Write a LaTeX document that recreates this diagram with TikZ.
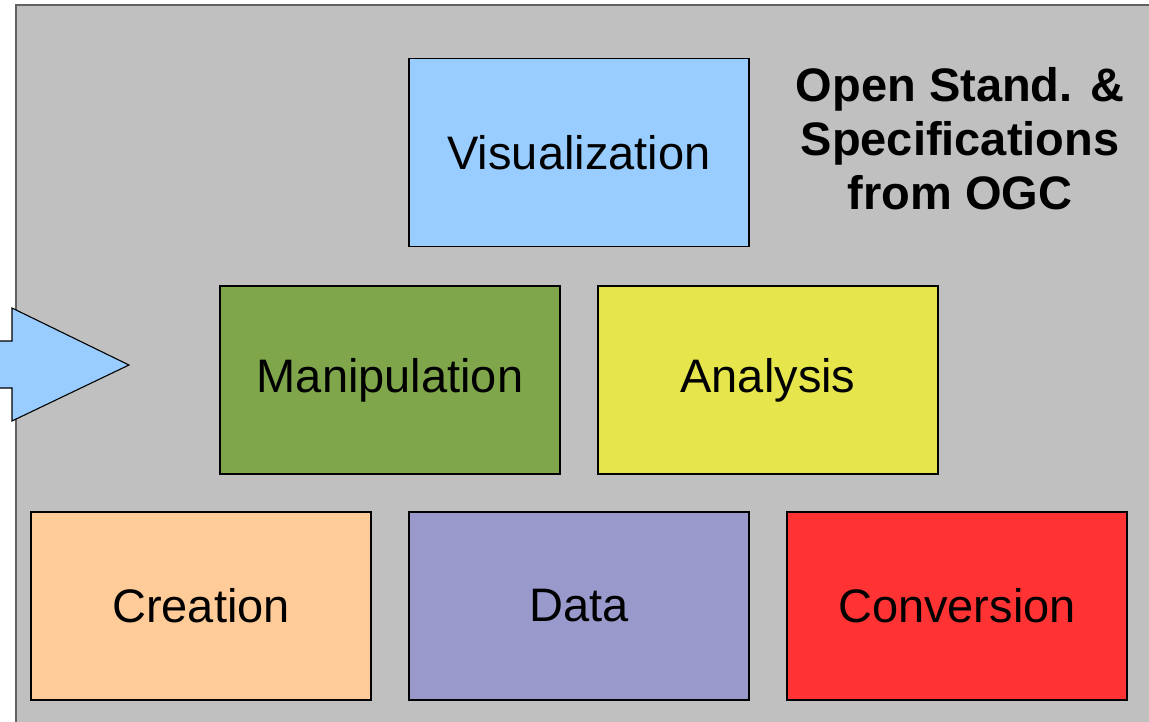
\documentclass[tikz,border=0pt]{standalone}
\usepackage{fontspec}
\setmainfont{Liberation Sans}
\definecolor{visblue}{HTML}{99CCFF}
\definecolor{mangreen}{HTML}{7FA64A}
\definecolor{anayellow}{HTML}{E6E64C}
\definecolor{creorange}{HTML}{FFCC99}
\definecolor{datviolet}{HTML}{9999CC}
\definecolor{conred}{HTML}{FF3333}
\definecolor{panelgray}{HTML}{C0C0C0}
\tikzstyle{block} = [draw=black,line width=1.1pt,minimum width=340pt,minimum height=188pt,inner sep=0pt,font=\fontsize{47}{54}\selectfont]
\tikzstyle{title} = [align=center,font=\fontsize{47}{54}\selectfont\bfseries]
\tikzstyle{panel} = [draw=black!62,line width=1.6pt,fill=panelgray]
\tikzstyle{bigarrow} = [draw=black,line width=1.1pt,fill=visblue,line join=miter]

\begin{document}
\begin{tikzpicture}[x=1pt,y=-1pt]
\useasboundingbox (0,0) rectangle (1149,721);
\path[panel] (16,5) rectangle (1170,740);
\path[bigarrow] (-10,341) -- (12,341) -- (12,308) -- (129,365)
  -- (12,421) -- (12,388) -- (-10,388) -- cycle;
\foreach \pos/\name/\col/\txt in {{(579,152.5)/vis/visblue/Visualization},
                         {(390,380)/man/mangreen/Manipulation},
                         {(768,380)/ana/anayellow/Analysis},
                         {(201,606)/cre/creorange/Creation},
                         {(579,606)/dat/datviolet/Data},
                         {(957,606)/con/conred/Conversion}}{
  \node[block,fill=\col] (\name) at \pos {\txt};
}
\node[title] (ogc) at (960,139) {Open Stand. \&\\Specifications\\from OGC};
\end{tikzpicture}
\end{document}
